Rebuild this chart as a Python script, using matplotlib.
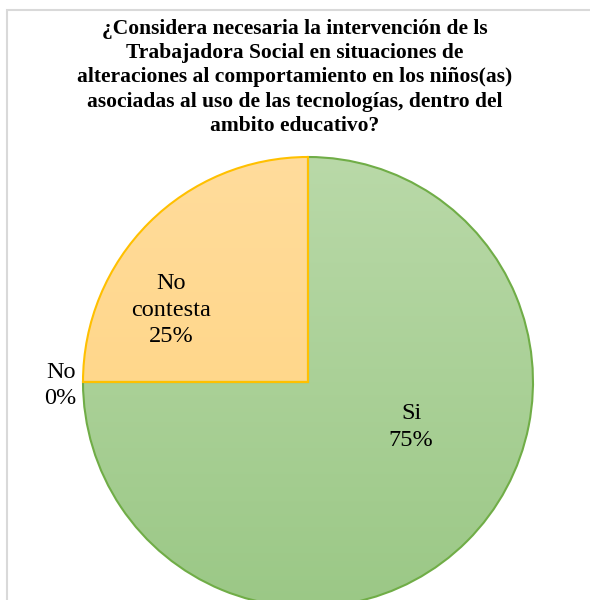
import matplotlib.pyplot as plt
import numpy as np
from matplotlib.colors import LinearSegmentedColormap
from matplotlib.patches import Rectangle

title = ("¿Considera necesaria la intervención de ls\n"
         "Trabajadora Social en situaciones de\n"
         "alteraciones al comportamiento en los niños(as)\n"
         "asociadas al uso de las tecnologías, dentro del\n"
         "ambito educativo?")
labels = ["Si", "No", "No contesta"]
values = [75, 0, 25]

edge_colors = ["#70AD47", "#FFC000", "#FFC000"]
grad_colors = [("#B9D9A8", "#9BC886"), ("#FFDC9C", "#FFD27A"), ("#FFDC9C", "#FFD27A")]
label_pos = [(0.458, -0.2), (-1.03, -0.015), (-0.61, 0.32)]
label_ha = ["center", "right", "center"]


def main():
    plt.rcParams["font.family"] = ["Liberation Serif", "DejaVu Serif"]
    W, H = 590, 600
    fig = plt.figure(figsize=(W / 100, H / 100), dpi=100)

    # chart-area border (light gray)
    fig.add_artist(Rectangle((7 / W, -0.1), 1.2, 0.1 + (H - 10) / H,
                             transform=fig.transFigure, fill=False,
                             edgecolor="#D9D9D9", linewidth=1.5))

    fig.text(295 / W, 1 - 19 / H, title, ha="center", va="top",
             fontsize=15.5, fontweight="bold", linespacing=1.28)

    r = 225
    cx, cy = 308, 382
    ax = fig.add_axes([(cx - r) / W, (H - cy - r) / H, 2 * r / W, 2 * r / H])
    ax.set_xlim(-1, 1)
    ax.set_ylim(-1, 1)
    ax.axis("off")

    wedges, _ = ax.pie(values, startangle=90, counterclock=False, radius=1,
                       colors=["none"] * 3,
                       wedgeprops=dict(linewidth=1.5, zorder=3))
    grad = np.linspace(0, 1, 256).reshape(-1, 1)
    for w, ec, (c0, c1) in zip(wedges, edge_colors, grad_colors):
        w.set_edgecolor(ec)
        cmap = LinearSegmentedColormap.from_list("g", [c0, c1])
        im = ax.imshow(grad, cmap=cmap, extent=[-1, 1, -1, 1], origin="upper",
                       aspect="auto", zorder=2)
        im.set_clip_path(w)
    ax.set_xlim(-1, 1)
    ax.set_ylim(-1, 1)

    for lab, v, (x, y), ha in zip(labels, values, label_pos, label_ha):
        txt = lab.replace(" ", "\n") + f"\n{v}%"
        ax.text(x, y, txt, ha=ha, va="center", fontsize=17.5,
                linespacing=1.32, zorder=5)

    fig.savefig("out.png", dpi=100)


if __name__ == "__main__":
    main()
